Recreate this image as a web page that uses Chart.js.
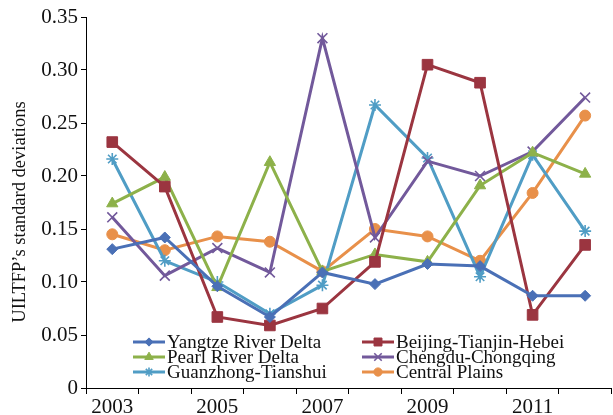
<!DOCTYPE html>
<html>
<head>
<meta charset="utf-8">
<script src="https://cdn.jsdelivr.net/npm/chart.js@4.4.1/dist/chart.umd.min.js"></script>
<style>
    html, body { margin: 0; padding: 0; background: #fff; overflow: hidden; }
    #box { width: 620px; height: 415px; }
</style>
</head>
<body>
<div id="box"><canvas id="grafico"></canvas></div>
<script>
// Dados do gráfico

const anos = ["2003", "2004", "2005", "2006", "2007", "2008", "2009", "2010", "2011", "2012"];
const yangtze = [0.131, 0.142, 0.096, 0.067, 0.109, 0.098, 0.117, 0.115, 0.087, 0.087];
const beijing = [0.232, 0.190, 0.067, 0.059, 0.075, 0.119, 0.305, 0.288, 0.069, 0.135];
const pearl = [0.174, 0.199, 0.095, 0.213, 0.110, 0.126, 0.119, 0.191, 0.222, 0.202];
const chengdu = [0.161, 0.106, 0.132, 0.109, 0.330, 0.142, 0.214, 0.200, 0.223, 0.274];
const guanzhong = [0.216, 0.120, 0.100, 0.070, 0.097, 0.267, 0.217, 0.105, 0.220, 0.148];
const centralPlains = [0.145, 0.130, 0.143, 0.138, 0.110, 0.150, 0.143, 0.120, 0.184, 0.257];
const ticksY = [0, 0.05, 0.10, 0.15, 0.20, 0.25, 0.30, 0.35];
const tituloY = "UILTFP’s standard deviations";

const fonte = "'Liberation Serif', 'Times New Roman', serif";

function serie(label, data, cor, estilo, raio) {
    return {
        label: label,
        data: data,
        borderColor: cor,
        backgroundColor: cor,
        borderWidth: 3,
        pointStyle: estilo,
        pointRadius: raio,
        pointHoverRadius: raio,
        pointBorderWidth: estilo === "crossRot" || estilo === "star" ? 1.6 : 1,
        tension: 0,
    };
}

const dados = {
    labels: anos,
    datasets: [
        serie("Yangtze River Delta", yangtze, "#4a70b6", "rectRot", 5.5),
        serie("Beijing-Tianjin-Hebei", beijing, "#9b3540", "rect", 7.5),
        serie("Pearl River Delta", pearl, "#8db14a", "triangle", 6.5),
        serie("Chengdu-Chongqing", chengdu, "#72599b", "crossRot", 7),
        serie("Guanzhong-Tianshui", guanzhong, "#509dc5", "star", 6),
        serie("Central Plains", centralPlains, "#e8904a", "circle", 5.5),
    ],
};

// legenda dentro da área do gráfico + título do eixo Y
const legendaInterna = {
    id: "legendaInterna",
    afterDraw(chart) {
        const ctx = chart.ctx;
        const colunas = [133, 362];
        const linhas = [342, 357, 372];
        ctx.save();
        chart.data.datasets.forEach((ds, i) => {
            const x = colunas[i % 2];
            const y = linhas[Math.floor(i / 2)];
            ctx.strokeStyle = ds.borderColor;
            ctx.lineWidth = 3;
            ctx.beginPath();
            ctx.moveTo(x, y);
            ctx.lineTo(x + 32, y);
            ctx.stroke();
            ctx.fillStyle = ds.backgroundColor;
            ctx.lineWidth = ds.pointBorderWidth;
            Chart.helpers.drawPoint(ctx, {
                pointStyle: ds.pointStyle,
                radius: ds.pointRadius * 0.75,
                rotation: 0,
                borderWidth: ds.pointBorderWidth,
            }, x + 16, y);
            ctx.fillStyle = "#111";
            ctx.font = "19px " + fonte;
            ctx.textBaseline = "middle";
            ctx.textAlign = "left";
            ctx.fillText(ds.label, x + 34, y + 1);
        });

        // título do eixo Y
        ctx.translate(20, 212);
        ctx.rotate(-Math.PI / 2);
        ctx.fillStyle = "#111";
        ctx.font = "18.5px " + fonte;
        ctx.textAlign = "center";
        ctx.textBaseline = "middle";
        ctx.fillText(tituloY, 0, 0);
        ctx.restore();
    },
};

const config = {
    type: "line",
    data: dados,
    options: {
        responsive: true,
        maintainAspectRatio: false,
        animation: false,
        layout: { padding: { top: 17, right: 0, left: 0, bottom: 0 } },
        plugins: {
            legend: { display: false },
            tooltip: { enabled: false },
        },
        scales: {
            x: {
                type: "category",
                offset: true,
                grid: {
                    offset: true,
                    drawOnChartArea: false,
                    drawTicks: true,
                    tickLength: 6,
                    color: "#000",
                },
                border: { color: "#000", width: 1 },
                ticks: {
                    autoSkip: false,
                    maxRotation: 0,
                    padding: 1,
                    color: "#111",
                    font: { family: fonte, size: 21 },
                    callback: function (v, i) {
                        return i % 2 === 0 ? anos[i] : "";
                    },
                },
                afterFit: function (s) { s.height = 27; },
            },
            y: {
                min: 0,
                max: 0.35,
                afterBuildTicks: function (s) {
                    s.ticks = ticksY.map((v) => ({ value: v }));
                },
                grid: {
                    drawOnChartArea: false,
                    drawTicks: true,
                    tickLength: 5,
                    color: "#000",
                },
                border: { color: "#000", width: 1 },
                ticks: {
                    padding: 3,
                    color: "#111",
                    font: { family: fonte, size: 21 },
                    callback: function (v) {
                        return v === 0 ? "0" : v.toFixed(2);
                    },
                },
                afterFit: function (s) { s.width = 86; },
            },
        },
    },
    plugins: [legendaInterna],
};

var grafico = new Chart(document.getElementById("grafico"), config);
</script>
</body>
</html>
